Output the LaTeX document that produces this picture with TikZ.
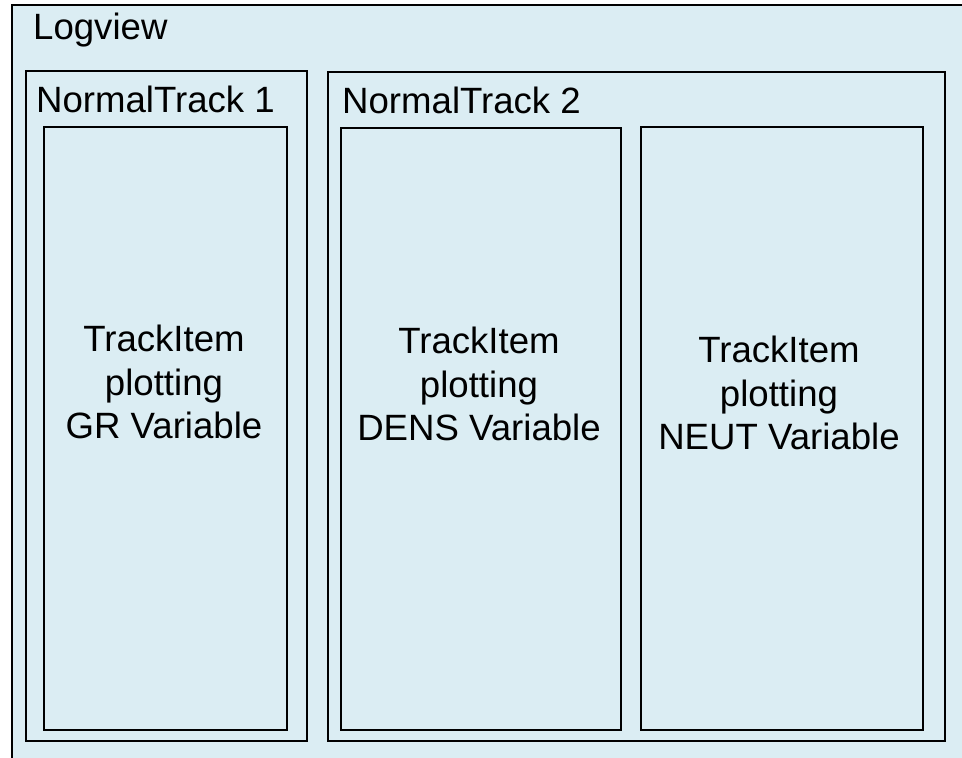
\documentclass[tikz,border=0pt]{standalone}
\usepackage{fontspec}
\setmainfont{Liberation Sans}
\definecolor{panelfill}{RGB}{219,237,243}
\begin{document}
\begin{tikzpicture}[x=1pt,y=-1pt,
  box/.style={draw=black, line width=1.8pt, fill=panelfill},
  lbl/.style={anchor=base west, inner sep=0pt, font=\fontsize{36.6}{43}\selectfont},
  itemtext/.style={anchor=north, inner sep=0pt, align=center, font=\fontsize{36.6}{43.5}\selectfont}]
  \useasboundingbox (0,0) rectangle (962,758);
  \clip (0,0) rectangle (962,758);
  \fill[white] (0,0) rectangle (962,758);
  \draw[box] (12,5) rectangle (990,790);
  \node[lbl] (logview) at (33,39) {Logview};
  % NormalTrack 1
  \draw[box] (26,71) rectangle (307,741);
  \node[lbl] (nt1) at (36,112) {NormalTrack 1};
  \draw[box] (44,127) rectangle (287,730);
  \node[itemtext] (gr) at (164,325) {TrackItem\\plotting\\GR Variable};
  % NormalTrack 2
  \draw[box] (328,72) rectangle (945,741);
  \node[lbl] (nt2) at (342,113) {NormalTrack 2};
  \draw[box] (341,128) rectangle (621,730);
  \node[itemtext] (dens) at (479,327) {TrackItem\\plotting\\DENS Variable};
  \draw[box] (641,127) rectangle (923,730);
  \node[itemtext] (neut) at (779,336) {TrackItem\\plotting\\NEUT Variable};
\end{tikzpicture}
\end{document}
